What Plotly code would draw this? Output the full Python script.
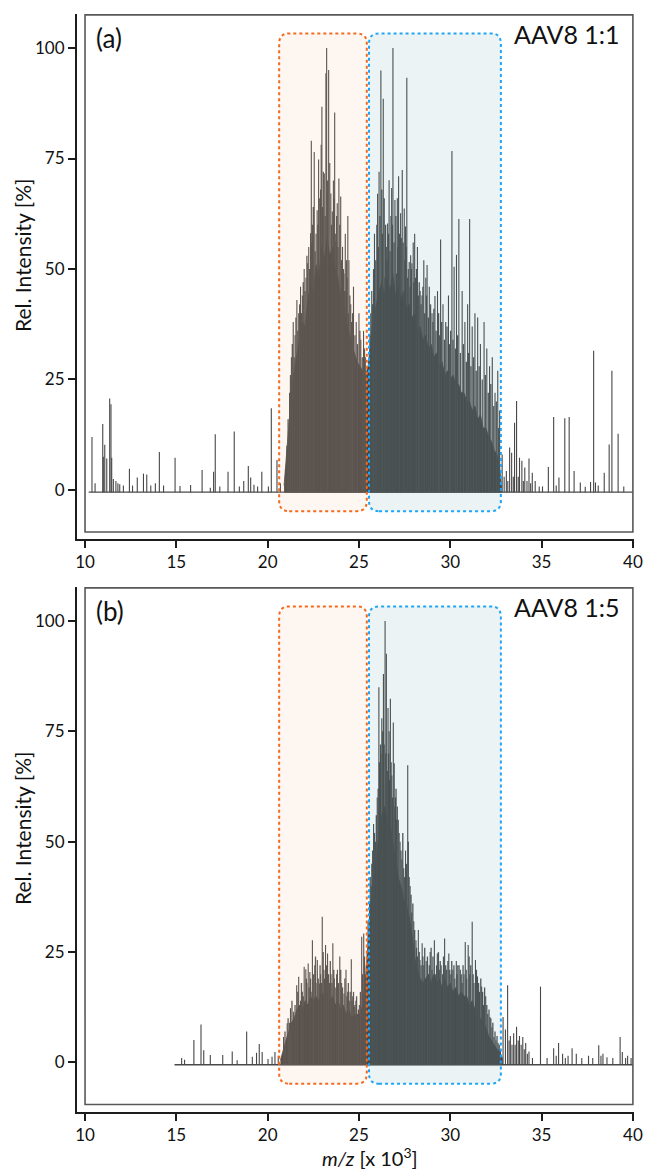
import plotly.graph_objects as go

# ---------------- data ----------------
x_ticks = [10, 15, 20, 25, 30, 35, 40]
y_ticks = [0, 25, 50, 75, 100]

# panel (a) AAV8 1:1 : isolated / tallest sticks  (m/z x10^3, rel. intensity %)
peaks_a_mz = [10.38, 10.55, 10.97, 11.0, 11.08, 11.19, 11.35, 11.42, 11.46, 11.55, 11.69, 11.8, 11.9, 12.1,
              12.43, 12.6, 12.86, 13.2, 13.38, 13.6, 13.85, 14.07, 14.3, 14.93, 15.2, 15.78, 16.41, 16.86,
              17.04, 17.13, 17.38, 17.83, 18.17, 18.45, 18.69, 18.94, 19.07, 19.25, 19.45, 19.68, 20.04,
              20.2, 20.51, 20.7, 20.98,
              21.05, 21.2, 21.3, 21.4, 21.5, 21.6, 21.7, 21.8, 21.9, 22.0, 22.1, 22.19, 22.25, 22.35, 22.39,
              22.45, 22.55, 22.65, 22.71, 22.79, 22.85, 22.93, 22.97, 23.05, 23.1, 23.19, 23.23, 23.34, 23.4,
              23.46, 23.54, 23.6, 23.67, 23.74, 23.81, 23.9, 24.0, 24.1, 24.18, 24.25, 24.29, 24.35, 24.39,
              24.45, 24.55, 24.7, 24.85, 25.0, 25.1, 25.25, 25.35, 25.45,
              25.6, 25.7, 25.85, 26.02, 26.1, 26.2, 26.33, 26.42, 26.5, 26.57, 26.65, 26.75, 26.79, 26.86,
              26.97, 27.06, 27.1, 27.17, 27.28, 27.32, 27.37, 27.48, 27.55, 27.62, 27.7, 27.75, 27.83, 27.9,
              27.97, 28.05, 28.1, 28.2, 28.35, 28.45, 28.55, 28.66, 28.73, 28.85, 29.0, 29.16, 29.3, 29.47,
              29.6, 29.75, 29.9, 30.09, 30.21, 30.34, 30.47, 30.65, 30.8, 30.95, 31.06, 31.2, 31.35, 31.5,
              31.65, 31.85, 32.0, 32.15, 32.3, 32.45, 32.6, 32.7,
              32.84, 32.95, 33.07, 33.15, 33.25, 33.36, 33.45, 33.52, 33.63, 33.72, 33.79, 33.92, 34.0,
              34.08, 34.2, 34.31, 34.4, 34.49, 34.65, 34.87, 35.05, 35.37, 35.66, 35.8, 35.95, 36.27,
              36.51, 36.78, 37.12, 37.39, 37.68, 37.85, 37.95, 38.1, 38.43, 38.7, 38.85, 39.19, 39.5]
peaks_a_int = [12.0, 1.5, 14.9, 7.5, 10.2, 7.1, 20.7, 19.4, 7.3, 2.5, 2.0, 1.5, 1.3, 1.0,
               4.8, 1.0, 2.8, 3.7, 3.5, 1.0, 1.5, 8.6, 1.0, 7.3, 0.9, 1.1, 4.5, 0.5,
               4.1, 12.6, 0.8, 4.1, 13.2, 0.8, 2.0, 5.4, 2.8, 1.2, 0.8, 4.1, 0.8,
               18.5, 6.8, 1.5, 4.8,
               10, 22, 30, 38, 35, 43, 40, 46, 44, 50, 48, 51.3, 55, 58.1, 79.0,
               60, 76.5, 58, 63.3, 74.8, 66, 78.1, 86.7, 72, 71.6, 94.3, 100, 95, 74,
               67.1, 63, 70, 85.4, 56.2, 64.9, 70.5, 66.4, 55, 49, 58, 45, 48, 62,
               52, 42, 46, 38, 40, 34, 36, 30, 28,
               35, 45, 58, 67, 72, 94.9, 88.5, 48, 55, 60.3, 70.1, 62, 68.3, 100,
               65.6, 49, 66, 71, 62.6, 57, 72.4, 63.7, 59.6, 93.3, 50, 51.6, 53.1, 51.3,
               56, 58, 48, 55, 45, 44, 52, 48, 50.9, 46, 40, 43.9, 45, 56.7,
               42, 38, 44, 76.7, 50.5, 53.2, 61.3, 45, 38, 42, 61.3, 37, 40, 39,
               33, 38, 32, 28, 30, 22, 27, 18,
               8, 3, 4.3, 2, 9.6, 8.4, 3, 15.2, 20.1, 3, 7.3, 6.6, 2,
               5.1, 2, 7.1, 1.5, 3.9, 2, 0.8, 0.8, 5.2, 16.5, 1, 2.8, 16.2,
               16.5, 4.3, 1.7, 0.7, 1.8, 31.5, 1.7, 1.0, 3.9, 10.3, 27, 12.7, 0.8]

# panel (a): additional closely spaced sticks inside the dense envelope
fine_a_mz = [21.12, 21.25, 21.35, 21.45, 21.55, 21.65, 21.75, 21.85, 21.95, 22.05, 22.15, 22.3, 22.42,
             22.5, 22.6, 22.75, 22.9, 23.0, 23.15, 23.28, 23.5, 23.63, 23.7, 23.78, 23.85, 23.95, 24.05,
             24.15, 24.22, 24.32, 24.42, 24.5, 24.6, 24.65, 24.78, 24.92, 25.05, 25.18, 25.3, 25.4,
             25.58, 25.65, 25.75, 25.8, 25.92, 25.98, 26.06, 26.15, 26.25, 26.28, 26.38, 26.46, 26.53,
             26.62, 26.7, 26.83, 26.92, 27.02, 27.13, 27.22, 27.42, 27.52, 27.58, 27.67, 27.8, 27.87,
             28.0, 28.15, 28.25, 28.3, 28.4, 28.5, 28.6, 28.7, 28.8, 28.92, 29.05, 29.1, 29.22, 29.36,
             29.42, 29.53, 29.68, 29.82, 29.95, 30.02, 30.15, 30.28, 30.4, 30.55, 30.72, 30.88, 31.0,
             31.13, 31.28, 31.42, 31.58, 31.75, 31.92, 32.08, 32.22, 32.38, 32.52, 32.65]
fine_a_int = [16, 26, 33, 30, 39, 36, 42, 40, 47, 45, 53, 50, 56,
              64, 54, 60, 68, 64, 62, 70, 60, 66, 58, 62, 55, 60, 52,
              50, 45, 52, 40, 44, 38, 40, 35, 33, 36, 30, 32, 27,
              30, 40, 42, 50, 52, 60, 55, 62, 68, 58, 66, 60, 52,
              58, 54, 60, 56, 62, 55, 58, 56, 52, 55, 48, 46, 50,
              47, 50, 44, 47, 42, 46, 40, 44, 39, 42, 38, 41, 36, 40,
              35, 38, 34, 37, 33, 36, 34, 32, 35, 31, 33, 29, 31,
              28, 30, 27, 28, 25, 26, 22, 24, 19, 20, 14]

# panel (a): upper edge of the unresolved dense signal
body_a_mz = [20.9, 21.0, 21.15, 21.3, 21.45, 21.6, 21.75, 21.9, 22.05, 22.2, 22.35, 22.5, 22.65, 22.8,
             22.95, 23.1, 23.25, 23.4, 23.55, 23.7, 23.85, 24.0, 24.15, 24.3, 24.45, 24.6, 24.75, 24.9,
             25.05, 25.2, 25.35, 25.5, 25.65, 25.8, 25.95, 26.1, 26.25, 26.4, 26.55, 26.7, 26.85, 27.0,
             27.15, 27.3, 27.45, 27.6, 27.75, 27.9, 28.05, 28.2, 28.35, 28.5, 28.65, 28.8, 28.95, 29.1,
             29.25, 29.4, 29.55, 29.7, 29.85, 30.0, 30.15, 30.3, 30.45, 30.6, 30.75, 30.9, 31.05, 31.2,
             31.35, 31.5, 31.65, 31.8, 31.95, 32.1, 32.25, 32.4, 32.55, 32.7, 32.8]
body_a_int = [1, 6, 14, 22, 27, 31, 35, 38, 37, 43, 47, 44, 51, 48,
              55, 52, 57, 53, 55, 50, 48, 44, 42, 38, 36, 33, 31, 29,
              28, 27, 25, 28, 34, 39, 42, 45, 47, 44, 48, 45, 49, 44,
              46, 43, 45, 41, 42, 39, 40, 36, 37, 34, 35, 32, 33, 30,
              31, 28, 29, 26, 27, 25, 26, 24, 24, 22, 22, 20, 20, 18,
              19, 16, 17, 14, 14, 12, 11, 9, 8, 5, 1]
baseline_a = [10.2, 40.0]

# panel (b) AAV8 1:5
peaks_b_mz = [15.29, 15.45, 15.96, 16.35, 16.5, 16.86, 17.54, 18.06, 18.33, 18.85, 19.16, 19.39, 19.54,
              19.7, 20.02, 20.24, 20.4, 20.58, 20.87, 21.07,
              21.25, 21.41, 21.59, 21.7, 21.8, 21.9, 22.0, 22.09, 22.15, 22.22, 22.31, 22.38, 22.45, 22.58,
              22.65, 22.72, 22.83, 22.9, 22.99, 23.08, 23.17, 23.28, 23.39, 23.47, 23.57, 23.65, 23.73,
              23.82, 23.95, 24.05, 24.18, 24.29, 24.38, 24.47, 24.58, 24.66, 24.74, 24.83, 24.92, 25.02,
              25.15, 25.26, 25.35,
              25.45, 25.55, 25.62, 25.7, 25.8, 25.9, 26.0, 26.09, 26.15, 26.2, 26.25, 26.34, 26.38, 26.43,
              26.5, 26.59, 26.65, 26.72, 26.8, 26.88, 26.93, 27.0, 27.05, 27.1, 27.2, 27.25, 27.35, 27.45,
              27.5, 27.55, 27.67, 27.75, 27.8, 27.89, 28.0, 28.12, 28.2, 28.25, 28.34, 28.46, 28.55, 28.68,
              28.8, 28.9, 29.0, 29.13, 29.2, 29.29, 29.4, 29.5, 29.58, 29.69, 29.8, 29.92, 30.03, 30.14,
              30.25, 30.33, 30.41, 30.55, 30.65, 30.75, 30.82, 30.9, 30.98, 31.07, 31.2, 31.3, 31.38,
              31.49, 31.6, 31.72, 31.82, 31.94, 32.05, 32.17, 32.28, 32.39, 32.5, 32.62, 32.75,
              32.89, 33.02, 33.14, 33.22, 33.29, 33.38, 33.47, 33.55, 33.63, 33.72, 33.79, 33.88, 33.97,
              34.05, 34.13, 34.22, 34.31, 34.5, 34.94, 35.3, 35.66, 35.8, 35.93, 36.15, 36.3, 36.45,
              36.67, 36.9, 37.2, 37.57, 37.8, 38.13, 38.25, 38.36, 38.58, 38.9, 39.3, 39.42, 39.6,
              39.71, 39.9]
peaks_b_int = [1.0, 0.6, 5.1, 8.6, 2.8, 1.7, 1.7, 2.5, 0.5, 7.0, 1.3, 2.2, 4.2,
               2.4, 0.8, 1.3, 2.4, 1.5, 5.8, 8.9,
               12.3, 11.5, 17.5, 19.4, 14, 16, 21.7, 21.1, 18, 22.4, 20.5, 16, 27.7, 22,
               18, 23.2, 17.9, 20, 33, 21, 26.6, 24.7, 18, 20, 27, 19, 17,
               21, 24, 18, 15.6, 21, 16, 14, 23.4, 15, 12.6, 14, 11, 13,
               28.5, 29.2, 20,
               25, 30, 42, 45, 54, 50, 60, 85, 65, 70, 78, 88, 72, 100,
               92.6, 80.3, 75, 82.4, 65, 77, 67.8, 60, 55, 58, 52, 50, 46, 44,
               42, 48, 67.3, 42, 40, 34, 32, 27.7, 24, 30, 23.2, 27, 22, 23,
               20, 25, 21, 27.7, 20, 24.7, 21, 22, 20, 28.1, 21, 24.7, 20, 21,
               19, 23, 22, 21, 18, 20, 27.3, 19, 26.6, 20, 31.9, 18, 23.2,
               19.5, 16, 17.2, 13, 15, 11, 10.3, 8, 5.8, 5, 4.4, 3,
               10.3, 7.5, 17.5, 5, 6, 4, 6.6, 4, 8.1, 5, 6, 4, 5.8,
               3, 4.4, 2, 2.5, 1, 17.2, 1, 3.2, 1.5, 4.4, 2, 1, 1.5,
               3.2, 2, 1, 1.5, 1, 3.9, 1.5, 2, 1.2, 1, 5.8, 2.4, 1,
               1.5, 1]

fine_b_mz = [20.95, 21.12, 21.2, 21.33, 21.5, 21.65, 21.85, 21.95, 22.12, 22.27, 22.35, 22.52, 22.62,
             22.77, 22.87, 22.95, 23.04, 23.12, 23.22, 23.33, 23.43, 23.52, 23.62, 23.78, 23.88, 24.0,
             24.1, 24.23, 24.34, 24.42, 24.52, 24.62, 24.7, 24.78, 24.87, 24.97, 25.08, 25.2, 25.3, 25.4,
             25.5, 25.58, 25.67, 25.75, 25.85, 25.95, 26.05, 26.12, 26.18, 26.3, 26.47, 26.55, 26.62,
             26.68, 26.76, 26.84, 26.97, 27.03, 27.15, 27.3, 27.4, 27.6, 27.7, 27.85, 27.95, 28.05,
             28.15, 28.3, 28.4, 28.5, 28.6, 28.75, 28.85, 28.95, 29.05, 29.25, 29.35, 29.45, 29.63,
             29.75, 29.87, 29.97, 30.08, 30.2, 30.37, 30.48, 30.6, 30.7, 30.87, 31.03, 31.12, 31.25,
             31.43, 31.55, 31.67, 31.77, 31.88, 32.0, 32.12, 32.22, 32.33, 32.45, 32.56, 32.68]
fine_b_int = [7, 10, 9, 14, 13, 16, 18, 15, 19, 17, 19, 20, 24,
              19, 22, 18, 25, 19, 22, 20, 23, 18, 21, 20, 18, 21,
              17, 19, 15, 18, 16, 14, 16, 13, 15, 12, 16, 20, 24, 22,
              32, 36, 40, 48, 52, 56, 62, 68, 72, 75, 70, 66, 70,
              64, 68, 60, 58, 62, 55, 48, 52, 45, 50, 38, 36, 30,
              26, 25, 22, 24, 26, 24, 22, 26, 24, 22, 25, 23, 24,
              22, 23, 21, 23, 22, 20, 22, 20, 22, 21, 24, 22, 20,
              21, 18, 19, 16, 17, 13, 12, 10, 9, 7, 6, 4]

body_b_mz = [20.7, 20.85, 21.0, 21.15, 21.3, 21.45, 21.6, 21.75, 21.9, 22.05, 22.2, 22.35, 22.5, 22.65,
             22.8, 22.95, 23.1, 23.25, 23.4, 23.55, 23.7, 23.85, 24.0, 24.15, 24.3, 24.45, 24.6, 24.75,
             24.9, 25.05, 25.2, 25.35, 25.5, 25.65, 25.8, 25.95, 26.1, 26.25, 26.4, 26.55, 26.7, 26.85,
             27.0, 27.15, 27.3, 27.45, 27.6, 27.75, 27.9, 28.05, 28.2, 28.35, 28.5, 28.65, 28.8, 28.95,
             29.1, 29.25, 29.4, 29.55, 29.7, 29.85, 30.0, 30.15, 30.3, 30.45, 30.6, 30.75, 30.9, 31.05,
             31.2, 31.35, 31.5, 31.65, 31.8, 31.95, 32.1, 32.25, 32.4, 32.55, 32.7, 32.85]
body_b_int = [0.5, 3, 5, 7, 9, 10, 12, 13, 12, 14, 13, 15, 14, 15,
              14, 16, 15, 16, 14, 15, 13, 14, 12, 13, 11, 12, 10, 11,
              10, 11, 13, 18, 28, 36, 42, 46, 52, 56, 58, 55, 54, 50,
              46, 42, 40, 37, 36, 33, 29, 24, 21, 19, 18, 19, 20, 18,
              20, 18, 19, 17, 19, 17, 18, 16, 17, 15, 16, 15, 15, 13,
              14, 12, 11, 10, 9, 8, 6, 5, 4, 3, 2.5, 1]
baseline_b = [14.9, 40.0]

# highlighted m/z windows (orange, blue) and their vertical extent
windows_mz = [(20.63, 25.43), (25.55, 32.77)]
window_int = (-4.8, 103.3)
window_line = ["#f26a1f", "#1ea6f4"]
window_fill = ["rgba(237,182,137,0.12)", "rgba(88,155,175,0.12)"]

panel_labels = ["(a)", "(b)"]
panel_titles = ["AAV8 1:1", "AAV8 1:5"]

# ---------------- figure ----------------
W, H = 645, 1169
FONT = "Lato, 'Open Sans', sans-serif"
BASE = -0.5
STICK = "#474747"
BODY = "#404040"


def px_x(p):
    return p / W


def px_y(p):
    return 1 - p / H


def sticks(mz, inten, base):
    xs, ys = [], []
    for m, v in zip(mz, inten):
        xs += [m, m, None]
        ys += [base, v, None]
    return xs, ys


def rounded(x0, x1, y0, y1, rx, ry):
    return (f"M {x0+rx},{y0} L {x1-rx},{y0} Q {x1},{y0} {x1},{y0+ry} "
            f"L {x1},{y1-ry} Q {x1},{y1} {x1-rx},{y1} L {x0+rx},{y1} "
            f"Q {x0},{y1} {x0},{y1-ry} L {x0},{y0+ry} Q {x0},{y0} {x0+rx},{y0} Z")


fig = go.Figure()
panels = [
    (peaks_a_mz, peaks_a_int, fine_a_mz, fine_a_int, body_a_mz, body_a_int, baseline_a),
    (peaks_b_mz, peaks_b_int, fine_b_mz, fine_b_int, body_b_mz, body_b_int, baseline_b),
]
# pixel geometry of the two panels (plot area includes the offset spines)
top_px = [14, 587]
bot_px = [539, 1111.5]
x_left_px, x_right_px = 77, 634
xrange_ = [9.56, 40.06]
yrange_ = [-11.1, 107.7]

shapes, annotations = [], []
for i, (pm, pi, fm, fi, bm, bi, bl) in enumerate(panels):
    xa = "x" if i == 0 else "x2"
    ya = "y" if i == 0 else "y2"
    fig.add_trace(go.Scatter(x=bm + [bm[-1], bm[0]], y=bi + [BASE, BASE], fill="toself",
                             fillcolor=BODY, mode="lines", line=dict(width=0.8, color=BODY),
                             hoverinfo="skip", showlegend=False, xaxis=xa, yaxis=ya))
    fig.add_trace(go.Scatter(x=bl, y=[BASE, BASE], mode="lines",
                             line=dict(color="#4a4a4a", width=1.4),
                             showlegend=False, xaxis=xa, yaxis=ya))
    fx, fy = sticks(fm, fi, BASE)
    fig.add_trace(go.Scatter(x=fx, y=fy, mode="lines", line=dict(color="#4e4e4e", width=1.3),
                             showlegend=False, xaxis=xa, yaxis=ya))
    sx, sy = sticks(pm, pi, BASE)
    fig.add_trace(go.Scatter(x=sx, y=sy, mode="lines", line=dict(color=STICK, width=1.1),
                             showlegend=False, xaxis=xa, yaxis=ya))
    shapes.append(dict(type="rect", xref=xa, yref=ya, x0=10, x1=40, y0=-9.5, y1=107.5,
                       line=dict(color="#585858", width=1.6), layer="above"))
    for (w0, w1), lc, fc in zip(windows_mz, window_line, window_fill):
        shapes.append(dict(type="path", xref=xa, yref=ya,
                           path=rounded(w0, w1, window_int[0], window_int[1], 0.55, 2.3),
                           line=dict(color=lc, width=2, dash="dot"), fillcolor=fc, layer="above"))
    off = 573 * i
    annotations.append(dict(text=panel_labels[i], xref="paper", yref="paper", x=px_x(94),
                            y=px_y(38 + off), xanchor="left", yanchor="middle",
                            showarrow=False, font=dict(size=26, color="#111", family=FONT)))
    annotations.append(dict(text=panel_titles[i], xref="paper", yref="paper", x=px_x(622),
                            y=px_y(34 + off), xanchor="right", yanchor="middle",
                            showarrow=False, font=dict(size=25, color="#111", family=FONT)))
    annotations.append(dict(text="Rel. Intensity [%]", xref="paper", yref="paper", x=px_x(22),
                            y=px_y(256 + off), xanchor="center", yanchor="middle",
                            textangle=-90, showarrow=False,
                            font=dict(size=21, color="#111", family=FONT)))

annotations.append(dict(text="<i>m/z</i> [x 10<sup>3</sup>]", xref="paper", yref="paper",
                        x=px_x(370), y=px_y(1157), xanchor="center", yanchor="middle",
                        showarrow=False, font=dict(size=20, color="#111", family=FONT)))

axis_common = dict(showline=True, linewidth=2, linecolor="#1c1c1c", ticks="outside",
                   ticklen=7, tickwidth=2, tickcolor="#1c1c1c", showgrid=False, zeroline=False,
                   mirror=False, tickfont=dict(size=17, color="#111", family=FONT),
                   automargin=False, fixedrange=True, ticklabeloverflow="allow")

layout = dict(width=W, height=H, margin=dict(l=0, r=0, t=0, b=0),
              paper_bgcolor="white", plot_bgcolor="white", showlegend=False,
              shapes=shapes, annotations=annotations)
for i in range(2):
    sfx = "" if i == 0 else "2"
    layout["xaxis" + sfx] = dict(axis_common, domain=[px_x(x_left_px), px_x(x_right_px)],
                                 range=xrange_, tickvals=x_ticks, anchor="y" + sfx)
    layout["yaxis" + sfx] = dict(axis_common, domain=[px_y(bot_px[i]), px_y(top_px[i])],
                                 range=yrange_, tickvals=y_ticks, anchor="x" + sfx)
fig.update_layout(**layout)
# remove the default page margin so the 645x1169 figure fills the window exactly
fig.write_html("out.html", config={"displayModeBar": False},
               post_script="document.body.style.margin='0px';"
                           "document.documentElement.style.overflow='hidden';")
